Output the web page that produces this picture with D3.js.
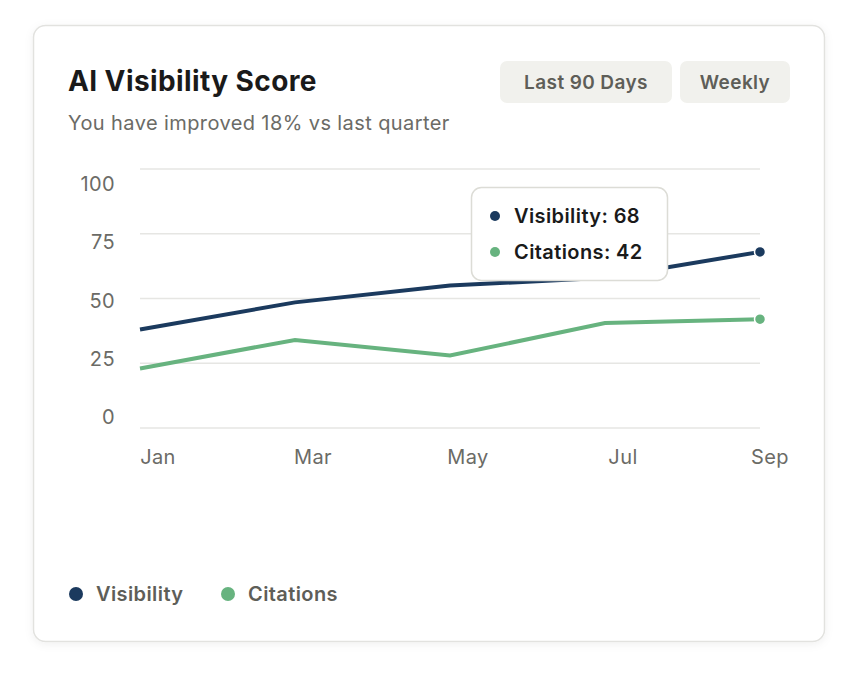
<!DOCTYPE html>
<html>
<head>
<meta charset="UTF-8">
<script src="https://d3js.org/d3.v7.min.js"></script>
<style>
  body { margin: 0; background: #fff; font-family: Inter, "Open Sans", sans-serif; }
  text { letter-spacing: 0.4px; }
</style>
</head>
<body>
<svg id="chart" width="858" height="684"></svg>
<script>
const months = ["Jan", "Mar", "May", "Jul", "Sep"];
const visibility = [38, 48.5, 55, 58, 68];
const citations = [23, 34, 28, 40.5, 42];
const yTicks = [0, 25, 50, 75, 100];

const svg = d3.select("#chart");
const navy = "#1b3a5e", green = "#67b37f";

const defs = svg.append("defs");
const f = defs.append("filter").attr("id", "shadow").attr("x", "-10%").attr("y", "-10%").attr("width", "120%").attr("height", "120%");
f.append("feDropShadow").attr("dx", 0).attr("dy", 2).attr("stdDeviation", 4).attr("flood-color", "#000").attr("flood-opacity", 0.06);

// card
svg.append("rect").attr("x", 33.5).attr("y", 25.5).attr("width", 791).attr("height", 616)
  .attr("rx", 12).attr("fill", "#fff").attr("stroke", "#e2e2df").attr("stroke-width", 1.5)
  .attr("filter", "url(#shadow)");

svg.append("text").attr("x", 68).attr("y", 91).text("AI Visibility Score")
  .attr("font-size", 28).attr("font-weight", 700).attr("fill", "#1a1a1a");
svg.append("text").attr("x", 68).attr("y", 130).text("You have improved 18% vs last quarter")
  .attr("font-size", 20).attr("fill", "#6b6b66");

// buttons
[["Last 90 Days", 500, 172], ["Weekly", 680, 110]].forEach(([t, x, w]) => {
  svg.append("rect").attr("x", x).attr("y", 61).attr("width", w).attr("height", 42)
    .attr("rx", 7).attr("fill", "#f1f1ed");
  svg.append("text").attr("x", x + w / 2).attr("y", 89).attr("text-anchor", "middle")
    .text(t).attr("font-size", 19).attr("font-weight", 600).attr("fill", "#5e5e58");
});

const x = d3.scalePoint().domain(months).range([140, 760]);
const y = d3.scaleLinear().domain([0, 100]).range([428, 169]);
const yLab = d3.scaleLinear().domain([0, 100]).range([424, 191]);

svg.append("g").selectAll("line").data(yTicks).join("line")
  .attr("x1", 140).attr("x2", 760).attr("y1", d => y(d)).attr("y2", d => y(d))
  .attr("stroke", "#e6e6e3").attr("stroke-width", 1.5);

svg.append("g").selectAll("text").data(yTicks).join("text")
  .attr("x", 115).attr("y", d => yLab(d)).attr("text-anchor", "end")
  .attr("font-size", 20).attr("fill", "#6b6b66").text(d => d);

svg.append("g").selectAll("text").data(months).join("text")
  .attr("x", (d, i) => i === months.length - 1 ? x(d) + 10 : x(d) + 18)
  .attr("y", 464).attr("text-anchor", "middle")
  .attr("font-size", 20).attr("fill", "#6b6b66").text(d => d);

const line = d3.line().x((d, i) => x(months[i])).y(d => y(d));
[[visibility, navy], [citations, green]].forEach(([data, c]) => {
  svg.append("path").attr("d", line(data)).attr("fill", "none")
    .attr("stroke", c).attr("stroke-width", 4);
  svg.append("circle").attr("cx", x(months[4])).attr("cy", y(data[4])).attr("r", 5.5)
    .attr("fill", c).attr("stroke", "#fff").attr("stroke-width", 1.5);
});

// tooltip
svg.append("rect").attr("x", 471.5).attr("y", 187.5).attr("width", 196).attr("height", 93)
  .attr("rx", 10).attr("fill", "#fff").attr("stroke", "#dcdcd6").attr("stroke-width", 1.5);
[["Visibility: " + visibility[4], navy, 216], ["Citations: " + citations[4], green, 252]].forEach(([t, c, yy]) => {
  svg.append("circle").attr("cx", 495).attr("cy", yy).attr("r", 5).attr("fill", c);
  svg.append("text").attr("x", 514).attr("y", yy + 7).text(t)
    .attr("font-size", 20).attr("font-weight", 600).attr("fill", "#1a1a1a");
});

// legend
[["Visibility", navy, 76], ["Citations", green, 228]].forEach(([t, c, lx]) => {
  svg.append("circle").attr("cx", lx).attr("cy", 594).attr("r", 7).attr("fill", c);
  svg.append("text").attr("x", lx + 20).attr("y", 601).text(t)
    .attr("font-size", 20).attr("font-weight", 600).attr("fill", "#5e5e58");
});
</script>
</body>
</html>
